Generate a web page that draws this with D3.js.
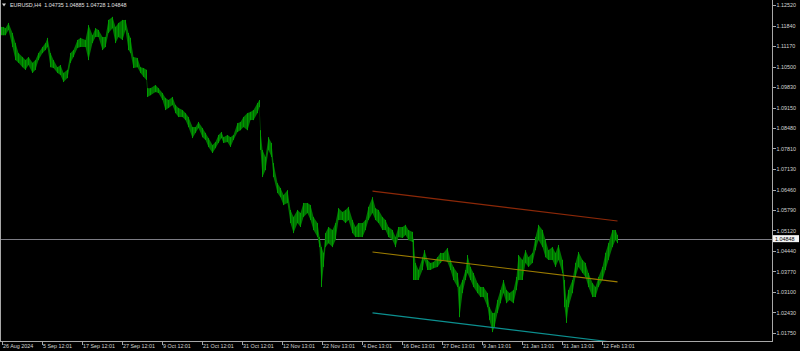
<!DOCTYPE html>
<html>
<head>
<meta charset="utf-8">
<script src="https://cdn.jsdelivr.net/npm/d3@7"></script>
<style>
body { margin: 0; background: #000; }
svg { display: block; font-family: "Liberation Sans", Arial, sans-serif; }
.axis text { fill: #d4d4d4; font-size: 5.4px; }
.axis path, .axis line { stroke: #a8a8a8; shape-rendering: crispEdges; }
</style>
</head>
<body>
<svg width="800" height="351"></svg>
<script>
// bar index (H4 bars from 26 Aug 2024)
var barIdx = [1,3,5,8,12,15,18,22,25,28,32,35,38,42,45,47,50,53,57,60,63,67,70,73,77,80,85,88,92,95,98,102,105,108,112,115,118,122,125,128,130,133,137,140,143,146,147,150,155,158,162,165,168,172,175,178,182,185,188,192,195,198,202,205,208,212,215,218,221,223,227,230,233,237,240,243,247,250,253,257,259,260,262,265,268,271,273,277,280,283,287,290,293,297,300,303,307,310,313,317,319,321,323,325,328,332,335,338,342,345,348,352,355,358,362,365,368,372,375,378,382,385,388,392,395,398,402,405,408,412,413,415,418,422,424,427,430,433,437,440,443,447,450,453,457,459,462,465,467,470,473,477,480,483,487,489,492,494,497,500,503,506,509,513,516,518,522,525,528,532,535,538,542,545,548,552,555,558,562,564,566,568,572,575,578,582,585,588,592,595,598,602,605,608,612,615,617];
var highs = [1.1180,1.1180,1.1176,1.1193,1.1160,1.1127,1.1094,1.1081,1.1071,1.1081,1.1062,1.1071,1.1094,1.1114,1.1127,1.1144,1.1094,1.1071,1.1048,1.1055,1.1029,1.1039,1.1094,1.1104,1.1137,1.1144,1.1137,1.1186,1.1153,1.1176,1.1170,1.1147,1.1147,1.1203,1.1213,1.1180,1.1193,1.1203,1.1203,1.1160,1.1144,1.1081,1.1078,1.1048,1.1045,1.1039,1.0979,1.0979,1.0989,1.0979,1.0963,1.0947,1.0940,1.0950,1.0924,1.0914,1.0907,1.0897,1.0884,1.0851,1.0851,1.0868,1.0848,1.0832,1.0815,1.0792,1.0802,1.0825,1.0835,1.0818,1.0825,1.0818,1.0825,1.0864,1.0868,1.0884,1.0897,1.0901,1.0907,1.0930,1.0940,1.0841,1.0776,1.0753,1.0818,1.0799,1.0733,1.0667,1.0651,1.0628,1.0644,1.0579,1.0556,1.0579,1.0569,1.0602,1.0602,1.0595,1.0556,1.0536,1.0490,1.0457,1.0438,1.0503,1.0523,1.0513,1.0536,1.0585,1.0572,1.0579,1.0589,1.0546,1.0523,1.0536,1.0536,1.0546,1.0589,1.0621,1.0585,1.0579,1.0556,1.0546,1.0523,1.0513,1.0490,1.0523,1.0523,1.0530,1.0513,1.0507,1.0480,1.0405,1.0382,1.0424,1.0447,1.0415,1.0405,1.0408,1.0424,1.0438,1.0438,1.0454,1.0415,1.0392,1.0372,1.0326,1.0349,1.0382,1.0431,1.0392,1.0372,1.0339,1.0326,1.0326,1.0306,1.0260,1.0241,1.0241,1.0283,1.0316,1.0349,1.0316,1.0306,1.0316,1.0359,1.0431,1.0415,1.0447,1.0424,1.0438,1.0490,1.0530,1.0513,1.0480,1.0447,1.0457,1.0438,1.0464,1.0415,1.0349,1.0283,1.0316,1.0349,1.0405,1.0441,1.0415,1.0405,1.0372,1.0339,1.0326,1.0359,1.0392,1.0438,1.0470,1.0513,1.0513,1.0497];
var lows = [1.1153,1.1153,1.1153,1.1170,1.1114,1.1071,1.1062,1.1048,1.1039,1.1055,1.1029,1.1039,1.1071,1.1094,1.1104,1.1114,1.1048,1.1045,1.1029,1.1022,1.0999,1.1012,1.1062,1.1081,1.1111,1.1114,1.1114,1.1071,1.1127,1.1147,1.1147,1.1104,1.1114,1.1160,1.1176,1.1127,1.1147,1.1137,1.1170,1.1104,1.1094,1.1045,1.1048,1.1029,1.1016,1.1006,1.0950,1.0956,1.0966,1.0963,1.0940,1.0907,1.0914,1.0924,1.0897,1.0884,1.0884,1.0874,1.0851,1.0815,1.0832,1.0848,1.0818,1.0809,1.0786,1.0766,1.0782,1.0799,1.0815,1.0799,1.0802,1.0786,1.0809,1.0835,1.0841,1.0851,1.0841,1.0874,1.0874,1.0897,1.0917,1.0776,1.0687,1.0710,1.0776,1.0753,1.0687,1.0635,1.0621,1.0595,1.0602,1.0536,1.0503,1.0536,1.0523,1.0556,1.0569,1.0546,1.0513,1.0490,1.0457,1.0326,1.0392,1.0457,1.0470,1.0457,1.0480,1.0546,1.0546,1.0536,1.0546,1.0503,1.0490,1.0490,1.0490,1.0513,1.0546,1.0569,1.0546,1.0536,1.0513,1.0513,1.0490,1.0480,1.0457,1.0490,1.0487,1.0497,1.0480,1.0474,1.0349,1.0349,1.0349,1.0382,1.0415,1.0382,1.0382,1.0388,1.0392,1.0405,1.0415,1.0408,1.0382,1.0349,1.0326,1.0227,1.0306,1.0349,1.0372,1.0349,1.0326,1.0306,1.0293,1.0293,1.0260,1.0218,1.0178,1.0195,1.0241,1.0273,1.0306,1.0273,1.0283,1.0273,1.0316,1.0349,1.0349,1.0405,1.0392,1.0405,1.0447,1.0480,1.0457,1.0424,1.0415,1.0415,1.0392,1.0415,1.0372,1.0260,1.0208,1.0260,1.0306,1.0359,1.0392,1.0372,1.0359,1.0326,1.0293,1.0293,1.0326,1.0349,1.0382,1.0415,1.0457,1.0480,1.0470];

var priceTicks = [1.12520,1.11840,1.11170,1.10500,1.09830,1.09150,1.08480,1.07810,1.07130,1.06460,1.05790,1.05120,1.04440,1.03770,1.03100,1.02430,1.01750];
var timeTickIdx = [1,41,81,121,161,201,241,281,321,361,401,441,481,521,561,601];
var timeLabels = ["26 Aug 2024","5 Sep 12:01","17 Sep 12:01","27 Sep 12:01","9 Oct 12:01","21 Oct 12:01","31 Oct 12:01","12 Nov 13:01","22 Nov 13:01","4 Dec 13:01","16 Dec 13:01","27 Dec 13:01","9 Jan 13:01","21 Jan 13:01","31 Jan 13:01","12 Feb 13:01"];

// std deviation channel
var channelIdx = [372, 617];
var channelMid = [1.0441, 1.0343];
var channelDev = 0.0200;

var bid = 1.04848;
var title = "EURUSD,H4  1.04735 1.04885 1.04728 1.04848";

var svg = d3.select("svg");
var plotW = 772, plotH = 341;

var x = d3.scaleLinear().domain([0, 772]).range([0.5, 772.5]);
var y = d3.scaleLinear().domain([1.01750, 1.12520]).range([333, 5]);

svg.append("defs").append("clipPath").attr("id", "plot")
  .append("rect").attr("x", 0).attr("y", 0).attr("width", plotW).attr("height", plotH);

var g = svg.append("g").attr("clip-path", "url(#plot)");

var bars = barIdx.map(function(d, i) { return { i: d, hi: highs[i], lo: lows[i] }; });

// bid line
g.append("line")
  .attr("x1", 0).attr("x2", plotW)
  .attr("y1", Math.round(y(bid)) + 0.5).attr("y2", Math.round(y(bid)) + 0.5)
  .attr("stroke", "#7c7c84");

// price band
g.append("path")
  .datum(bars)
  .attr("fill", "#007400")
  .attr("d", d3.area()
    .x(function(d) { return x(d.i); })
    .y0(function(d) { return y(d.lo); })
    .y1(function(d) { return y(d.hi); }));

g.selectAll(".hl")
  .data(bars)
  .enter()
  .append("line")
  .attr("class", "hl")
  .attr("x1", function(d) { return x(d.i); })
  .attr("x2", function(d) { return x(d.i); })
  .attr("y1", function(d) { return y(d.hi); })
  .attr("y2", function(d) { return y(d.lo); })
  .attr("stroke", "#009c00")
  .attr("stroke-width", 1);

// channel lines
var chan = [
  { off: channelDev, color: "#8c2808" },
  { off: 0, color: "#9c7c00" },
  { off: -channelDev, color: "#0c9090" }
];
g.selectAll(".chan")
  .data(chan)
  .enter()
  .append("line")
  .attr("class", "chan")
  .attr("x1", x(channelIdx[0]))
  .attr("x2", x(channelIdx[1]))
  .attr("y1", function(d) { return y(channelMid[0] + d.off); })
  .attr("y2", function(d) { return y(channelMid[1] + d.off); })
  .attr("stroke", function(d) { return d.color; })
  .attr("stroke-width", 1.1);

// frame
svg.append("line").attr("x1", 0.5).attr("x2", 0.5).attr("y1", 0).attr("y2", plotH)
  .attr("stroke", "#a8a8a8");

// y axis (right)
svg.append("g")
  .attr("class", "axis")
  .attr("transform", "translate(" + (plotW + 0.5) + ",0)")
  .call(d3.axisRight(y).tickValues(priceTicks).tickSize(3).tickSizeOuter(0).tickPadding(1)
    .tickFormat(d3.format(".5f")))
  .call(function(a) { a.select(".domain").attr("d", "M0,0V" + (plotH + 0.5)); });

// x axis (bottom)
var xa = svg.append("g")
  .attr("class", "axis")
  .attr("transform", "translate(0," + (plotH + 0.5) + ")")
  .call(d3.axisBottom(x).tickValues(timeTickIdx).tickSize(3).tickSizeOuter(0)
    .tickFormat(function(d, i) { return timeLabels[i]; }));
xa.select(".domain").attr("d", "M0,0H" + (plotW + 0.5));
xa.selectAll(".tick text").attr("text-anchor", "start").attr("x", 1).attr("y", 3).attr("dy", "0.71em");

// bid label
var by = y(bid);
svg.append("rect")
  .attr("x", plotW + 1).attr("y", by - 3.5).attr("width", 26).attr("height", 7)
  .attr("fill", "#f4f4f4");
svg.append("text")
  .attr("x", plotW + 3).attr("y", by)
  .attr("dy", "0.35em")
  .attr("font-size", "5.4px")
  .attr("fill", "#000")
  .text(d3.format(".5f")(bid));

// title
svg.append("path")
  .attr("d", "M2,3.5L6,3.5L4,6.5Z")
  .attr("fill", "#d4d4d4");
svg.append("text")
  .attr("x", 10).attr("y", 5)
  .attr("dy", "0.35em")
  .attr("font-size", "5.4px")
  .attr("fill", "#e0e0e0")
  .style("white-space", "pre")
  .text(title);
</script>
</body>
</html>
